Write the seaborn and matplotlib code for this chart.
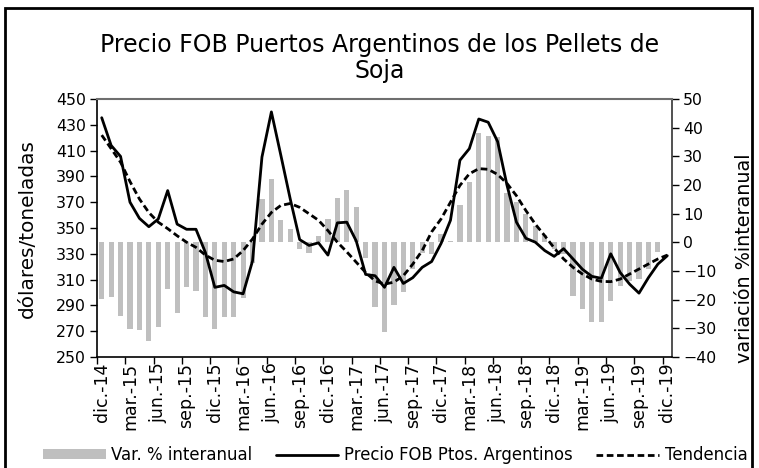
import numpy as np
import pandas as pd
import matplotlib
matplotlib.use("Agg")
import matplotlib.pyplot as plt
import seaborn as sns
from matplotlib.patches import Patch, Rectangle
from matplotlib.lines import Line2D

# Monthly series, dic-2014 .. dic-2019
month_abbr = ["ene.", "feb.", "mar.", "abr.", "may.", "jun.",
              "jul.", "ago.", "sep.", "oct.", "nov.", "dic."]
months = ["dic.-14"] + [f"{m}-{y}" for y in range(15, 20) for m in month_abbr]

tick_labels = ["dic.-14", "mar.-15", "jun.-15", "sep.-15", "dic.-15", "mar.-16",
               "jun.-16", "sep.-16", "dic.-16", "mar.-17", "jun.-17", "sep.-17",
               "dic.-17", "mar.-18", "jun.-18", "sep.-18", "dic.-18", "mar.-19",
               "jun.-19", "sep.-19", "dic.-19"]

# Precio FOB (USD/t)
precio = [435.5, 414, 405.5, 370, 357.5, 351, 357, 379, 353, 349, 349, 331,
          304, 305.5, 300.5, 299, 324.5, 405, 440, 406.5, 372.5, 341, 336.5, 338.5,
          329, 354, 354.5, 340, 314, 313, 304, 319.5, 307, 311.5, 319.5, 324,
          338, 356, 402.5, 411.5, 434.5, 432, 417, 383, 354.5, 342, 339, 332.5,
          328, 334, 326, 318, 312.5, 311, 330, 315.5, 306.5, 299.5, 311.5, 322,
          328.5]

# Tendencia (USD/t)
tendencia = [422, 411.5, 401, 386, 372.5, 362, 354.5, 349.5, 344, 339, 335, 329,
             325, 324, 326, 332.5, 341.5, 353, 362, 367.5, 369, 366, 361, 356,
             348, 339, 331.5, 323.5, 315.5, 309, 306.5, 308, 313, 322, 332.5, 347,
             357, 370, 383, 392, 396, 395.5, 391.5, 384.5, 375, 363.5, 353, 344,
             334.5, 326, 319.5, 314.3, 310.4, 308.6, 308.4, 310.4, 314.3, 318.2, 322.1, 326,
             329]

# Variación % interanual
var_interanual = [-19.6, -19.1, -25.7, -30.2, -30.7, -34.5, -29.7, -16.4, -24.8, -15.6, -16.9, -26.1,
                  -30.2, -26.1, -26.1, -19.3, -7.1, 15.0, 22.2, 7.7, 4.5, -2.2, -3.7, 2.2,
                  8.0, 15.6, 18.3, 12.3, -5.4, -22.5, -31.2, -22.0, -17.3, -9.4, -3.6, -4.2,
                  2.8, 0.3, 12.9, 21.1, 38.1, 37.1, 36.6, 17.3, 14.1, 9.8, 5.7, 2.4,
                  -2.2, -4.0, -18.6, -23.3, -27.7, -27.7, -20.4, -15.1, -13.4, -12.8, -9.3, -3.5,
                  0.2]

df = pd.DataFrame({
    "mes": months,
    "pos": np.arange(len(months)),
    "precio": precio,
    "tendencia": tendencia,
    "var": var_interanual,
})

sns.set_theme(style="ticks", rc={
    "text.color": "black", "axes.labelcolor": "black",
    "xtick.color": "black", "ytick.color": "black",
    "axes.edgecolor": "black",
})
plt.rcParams["font.family"] = ["DejaVu Sans"]

W, H = 759, 468
fig = plt.figure(figsize=(W / 100, H / 100), dpi=100)
ax = fig.add_axes([97 / W, 1 - 357 / H, (672 - 97) / W, (357 - 99) / H])
ax2 = ax.twinx()

BAR = "#BFBFBF"
sns.barplot(data=df, x="pos", y="var", ax=ax2, color=BAR, saturation=1,
            width=0.55, edgecolor="none", linewidth=0)
sns.lineplot(data=df, x="pos", y="precio", ax=ax, color="black", lw=2, legend=False)
sns.lineplot(data=df, x="pos", y="tendencia", ax=ax, color="black", lw=2, legend=False)
ax.lines[-1].set_dashes((2.4, 1.3))

# lines in front of the bars
ax.set_zorder(ax2.get_zorder() + 1)
ax.patch.set_visible(False)

ax.set_ylim(250, 450)
ax.set_yticks(np.arange(250, 451, 20))
ax2.set_ylim(-40, 50)
ax2.set_yticks(np.arange(-40, 51, 10))

ax.set_xlim(-0.5, 60.5)
ax.set_xticks(np.arange(0, 61, 3))
ax.set_xticklabels(tick_labels, rotation=90, fontsize=12.5)
ax.set_xticks(np.arange(-0.5, 60, 3), minor=True)
ax.tick_params(axis="x", which="major", length=0, pad=4)
ax.tick_params(axis="x", which="minor", length=5, width=1, direction="out", bottom=True)
ax.tick_params(axis="y", length=5, width=1, direction="out", labelsize=11.3, pad=3)
ax2.tick_params(axis="y", length=5, width=1, direction="out", labelsize=11.3, pad=3)

for a in (ax, ax2):
    a.set_xlabel("")
    a.set_ylabel("")

for s in ("left", "bottom"):
    ax.spines[s].set_color("black")
    ax.spines[s].set_linewidth(1.2)
ax.spines["top"].set_visible(True)
ax.spines["top"].set_color("#6E6E6E")
ax.spines["top"].set_linewidth(1.5)
ax.spines["right"].set_visible(False)
for s in ("left", "bottom", "top"):
    ax2.spines[s].set_visible(False)
ax2.spines["right"].set_visible(True)
ax2.spines["right"].set_color("#333333")
ax2.spines["right"].set_linewidth(1.2)

fig.text(0.5, 1 - 33 / H, "Precio FOB Puertos Argentinos de los Pellets de\nSoja",
         ha="center", va="top", fontsize=17, linespacing=1.1)
fig.text(27 / W, 1 - 229 / H, "dólares/toneladas", rotation=90,
         ha="center", va="center", fontsize=14.4)
fig.text(745 / W, 1 - 258 / H, "variación %interanual", rotation=90,
         ha="center", va="center", fontsize=13.8)

handles = [
    Patch(facecolor=BAR, edgecolor="none", label="Var. % interanual"),
    Line2D([], [], color="black", lw=2, label="Precio FOB Ptos. Argentinos"),
    Line2D([], [], color="black", lw=2, dashes=(2.4, 1.3), label="Tendencia"),
]
fig.legend(handles=handles, loc="center", bbox_to_anchor=(395 / W, 1 - 455 / H),
           ncol=3, frameon=False, fontsize=11.9, handlelength=3.8, handleheight=0.5,
           handletextpad=0.35, columnspacing=1.4)

fig.add_artist(Rectangle((5 / W, -0.02), (752 - 5) / W, 1 - 8 / H + 0.02,
                         transform=fig.transFigure, fill=False,
                         edgecolor="black", lw=2))

fig.savefig("out.png", dpi=100)
